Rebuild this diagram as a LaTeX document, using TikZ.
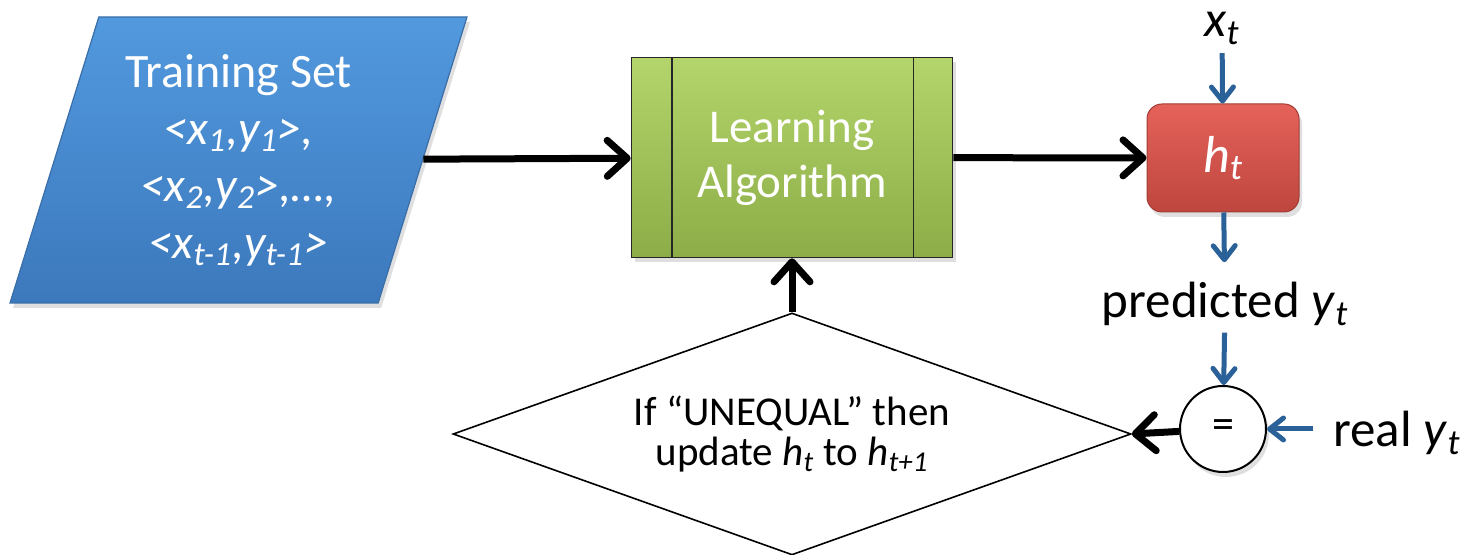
\documentclass[tikz,border=0pt]{standalone}
\usepackage{fontspec}
\setmainfont{Carlito}
\usetikzlibrary{shapes.geometric,arrows.meta,shadows,positioning}

\definecolor{setblue}{HTML}{5299DE}
\definecolor{setbluedark}{HTML}{3C78BC}
\definecolor{setborder}{HTML}{3A6EA8}
\definecolor{algogreen}{HTML}{B4D56B}
\definecolor{algogreendark}{HTML}{8CAD47}
\definecolor{hypred}{HTML}{E5625A}
\definecolor{hypreddark}{HTML}{BE463E}
\definecolor{arrowblue}{HTML}{2B6199}

\newcommand{\iv}[2]{\textit{#1}\textsubscript{\textit{#2}}}

\begin{document}
\begin{tikzpicture}[x=0.5pt,y=-0.5pt,
    flow/.style={line width=3.5pt,-{Straight Barb[length=10pt,width=18pt,round]}},
    feed/.style={draw=arrowblue,line width=2.5pt,-{Straight Barb[length=7pt,width=11pt,round]}},
    label/.style={inner sep=3pt,font=\fontsize{25.5}{30}\selectfont},
    shade/.style={drop shadow={shadow xshift=1.5pt,shadow yshift=-2.5pt,opacity=0.25}}]
    \useasboundingbox (0,0) rectangle (1468,555);

    % training set
    \node[trapezium,trapezium left angle=72.5,trapezium right angle=107.5,
        trapezium stretches body,minimum height=143pt,minimum width=228.5pt,
        top color=setblue,bottom color=setbluedark,draw=setborder,line width=0.6pt,shade,
        text=white,align=center,inner xsep=0pt,inner ysep=17.5pt,font=\fontsize{24}{28.5}\selectfont]
        (train) at (238.5,160) {Training Set\\
        \textit{<x\textsubscript{1},y\textsubscript{1}>,}\\
        \textit{<x\textsubscript{2},y\textsubscript{2}>,…,}\\
        \textit{<x\textsubscript{t-1},y\textsubscript{t-1}>}};

    % learning algorithm
    \node[rectangle,minimum width=160.5pt,minimum height=100pt,
        top color=algogreen,bottom color=algogreendark,draw=black!85,line width=0.8pt,shade,
        text=white,align=center,font=\fontsize{23.5}{27.5}\selectfont]
        (algo) at (792,157.5) {Learning\\Algorithm};
    \draw[black!85,line width=0.8pt] ([xshift=20.5pt]algo.north west) -- ([xshift=20.5pt]algo.south west);
    \draw[black!85,line width=0.8pt] ([xshift=-20pt]algo.north east) -- ([xshift=-20pt]algo.south east);

    % hypothesis
    \node[rectangle,rounded corners=7.5pt,minimum width=76pt,minimum height=54pt,
        top color=hypred,bottom color=hypreddark,draw=hypreddark!85!black,line width=0.5pt,shade,
        text=white,font=\fontsize{26}{30}\selectfont]
        (hyp) at (1223,158) {\iv{h}{t}};

    % decision
    \node[diamond,aspect=2.8,minimum width=339pt,minimum height=121pt,inner sep=0pt,
        draw,line width=0.8pt,fill=white,align=center,font=\fontsize{20.5}{20}\selectfont]
        (dec) at (792,434) {If “UNEQUAL” then\\update \iv{h}{t} to \iv{h}{t+1}};

    % compare
    \node[circle,draw,line width=1pt,minimum size=43pt,fill=white,shade,
        font=\fontsize{22}{26}\selectfont] (eq) at (1223,429) {=};

    % labels
    \node[label,inner sep=1pt,anchor=base] (xt) at (1222,37) {\iv{x}{t}};
    \node[label,anchor=base] (pred) at (1225,318) {predicted \iv{y}{t}};
    \node[label,anchor=base] (real) at (1397,447) {real \iv{y}{t}};

    \draw[flow] (train) -- (algo);
    \draw[flow] (algo) -- (hyp);
    \draw[flow] (dec.north) -- (algo.south);
    \draw[flow] (eq) -- (dec.east);

    \draw[feed,shorten <=3pt] (xt) -- (hyp);
    \draw[feed,shorten >=7pt] (hyp) -- (pred);
    \draw[feed] (pred) -- (eq);
    \draw[feed,shorten <=7pt] (real.west |- eq) -- (eq);
\end{tikzpicture}
\end{document}
